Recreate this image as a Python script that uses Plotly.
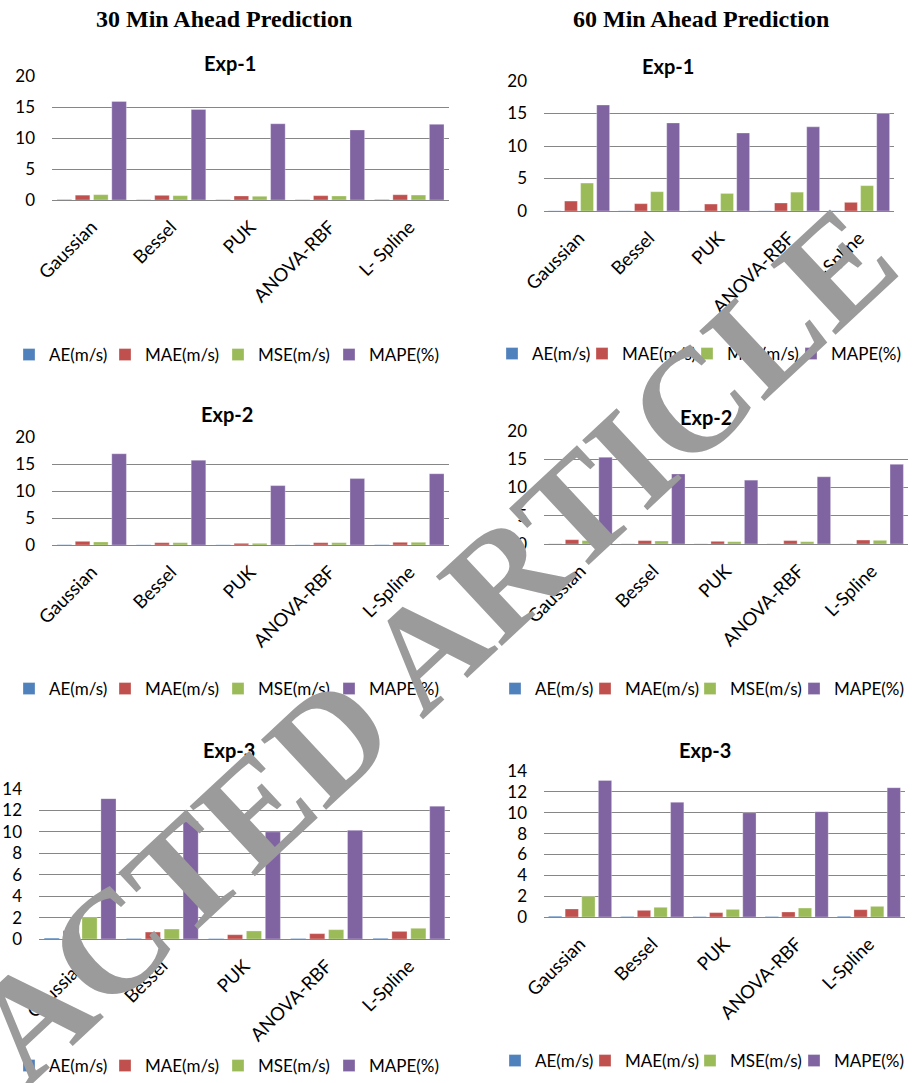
import plotly.graph_objects as go

W, H = 917, 1083

metrics = ["AE(m/s)", "MAE(m/s)", "MSE(m/s)", "MAPE(%)"]
colors = ["#4F81BD", "#C0504D", "#9BBB59", "#8064A2"]

kernels_a = ["Gaussian", "Bessel", "PUK", "ANOVA-RBF", "L- Spline"]
kernels = ["Gaussian", "Bessel", "PUK", "ANOVA-RBF", "L-Spline"]

# 30 min ahead, Exp-1
ae_30_1 = [0.08, 0.05, 0.05, 0.05, 0.08]
mae_30_1 = [0.78, 0.75, 0.65, 0.70, 0.85]
mse_30_1 = [0.86, 0.70, 0.60, 0.65, 0.80]
mape_30_1 = [15.9, 14.6, 12.3, 11.3, 12.2]

# 60 min ahead, Exp-1
ae_60_1 = [0.03, 0.03, 0.03, 0.03, 0.03]
mae_60_1 = [1.53, 1.13, 1.07, 1.23, 1.33]
mse_60_1 = [4.30, 2.97, 2.70, 2.90, 3.90]
mape_60_1 = [16.3, 13.55, 12.0, 12.95, 15.0]

# 30 min ahead, Exp-2
ae_30_2 = [0.06, 0.04, 0.04, 0.04, 0.06]
mae_30_2 = [0.68, 0.43, 0.31, 0.43, 0.50]
mse_30_2 = [0.56, 0.43, 0.31, 0.43, 0.50]
mape_30_2 = [16.9, 15.7, 11.0, 12.3, 13.2]

# 60 min ahead, Exp-2
ae_60_2 = [0.03, 0.03, 0.03, 0.03, 0.03]
mae_60_2 = [0.76, 0.60, 0.47, 0.60, 0.70]
mse_60_2 = [0.60, 0.53, 0.41, 0.41, 0.65]
mape_60_2 = [15.35, 12.4, 11.3, 11.9, 14.1]

# 30 min ahead, Exp-3
ae_30_3 = [0.09, 0.05, 0.04, 0.05, 0.07]
mae_30_3 = [0.78, 0.65, 0.40, 0.50, 0.71]
mse_30_3 = [2.00, 0.93, 0.75, 0.87, 1.00]
mape_30_3 = [13.1, 11.0, 10.0, 10.15, 12.4]

# 60 min ahead, Exp-3
ae_60_3 = [0.08, 0.05, 0.04, 0.05, 0.07]
mae_60_3 = [0.77, 0.64, 0.42, 0.48, 0.70]
mse_60_3 = [1.98, 0.93, 0.73, 0.86, 1.02]
mape_60_3 = [13.1, 11.0, 10.0, 10.1, 12.4]

column_titles = ["30 Min Ahead Prediction", "60 Min Ahead Prediction"]
panel_titles = ["Exp-1", "Exp-1", "Exp-2", "Exp-2", "Exp-3", "Exp-3"]
stamp_text = "RETRACTED ARTICLE"

SANS = "Lato"
SERIF = "Liberation Serif"

# legend entry widths (px) for the left and right column of charts
LEG_W_LEFT = [51, 68, 66, 70]
LEG_W_RIGHT = [45, 60, 59, 70]

# pixel layout of each panel: plot x-span, y top/bottom, axis max, tick step,
# title centre, legend left edge / centre line
panels = [
    dict(cats=kernels_a, data=[ae_30_1, mae_30_1, mse_30_1, mape_30_1],
         x=(52, 449), y=(76, 200), ymax=20, dtick=5,
         title=(230, 63), legend=(9, 355), lw=LEG_W_LEFT),
    dict(cats=kernels, data=[ae_60_1, mae_60_1, mse_60_1, mape_60_1],
         x=(544, 894), y=(81, 211), ymax=20, dtick=5,
         title=(668, 66), legend=(492, 354), lw=LEG_W_RIGHT),
    dict(cats=kernels, data=[ae_30_2, mae_30_2, mse_30_2, mape_30_2],
         x=(52, 449), y=(437, 545), ymax=20, dtick=5,
         title=(227, 414), legend=(9, 689), lw=LEG_W_LEFT),
    dict(cats=kernels, data=[ae_60_2, mae_60_2, mse_60_2, mape_60_2],
         x=(544, 908), y=(431, 544), ymax=20, dtick=5,
         title=(706, 417), legend=(495, 689), lw=LEG_W_RIGHT),
    dict(cats=kernels, data=[ae_30_3, mae_30_3, mse_30_3, mape_30_3],
         x=(39, 450), y=(789, 939), ymax=14, dtick=2,
         title=(229, 750), legend=(9, 1066), lw=LEG_W_LEFT),
    dict(cats=kernels, data=[ae_60_3, mae_60_3, mse_60_3, mape_60_3],
         x=(544, 905), y=(771, 917), ymax=14, dtick=2,
         title=(705, 750), legend=(495, 1061), lw=LEG_W_RIGHT),
]

fig = go.Figure()
layout = dict(
    width=W, height=H,
    margin=dict(l=0, r=0, t=0, b=0, autoexpand=False),
    paper_bgcolor="white", plot_bgcolor="white",
    barmode="group", bargap=0.08, bargroupgap=0.2,
    showlegend=True,
)
annotations = []

for i, p in enumerate(panels, start=1):
    sfx = "" if i == 1 else str(i)
    leg = "legend" + sfx
    for name, vals, col, lw in zip(metrics, p["data"], colors, p["lw"]):
        fig.add_trace(go.Bar(
            x=p["cats"], y=vals, name=name,
            marker=dict(color=col, line=dict(color="rgba(255,255,255,0.5)", width=0.6)),
            xaxis="x" + sfx, yaxis="y" + sfx, legend=leg, legendwidth=lw,
        ))
    x0, x1 = p["x"]
    yt, yb = p["y"]
    layout["xaxis" + sfx] = dict(
        domain=[x0 / W, x1 / W], anchor="y" + sfx, automargin=False,
        showline=True, linecolor="#868686", linewidth=1,
        showgrid=False, ticks="", tickangle=-45,
        tickfont=dict(family=SANS, size=18.5, color="black"),
        ticklabelstandoff=8, fixedrange=True,
    )
    layout["yaxis" + sfx] = dict(
        domain=[1 - yb / H, 1 - yt / H], anchor="x" + sfx, automargin=False,
        range=[0, p["ymax"]], dtick=p["dtick"], tick0=0,
        showgrid=True, gridcolor="#868686", gridwidth=1,
        zeroline=False, showline=False, ticks="",
        tickfont=dict(family=SANS, size=17, color="black"),
        ticklabelstandoff=16, fixedrange=True,
    )
    lx, ly = p["legend"]
    layout[leg] = dict(
        orientation="h", x=lx / W, y=1 - ly / H,
        xanchor="left", yanchor="middle",
        font=dict(family=SANS, size=17, color="black"),
        bgcolor="rgba(0,0,0,0)", itemclick=False, itemdoubleclick=False,
    )
    tx, ty = p["title"]
    annotations.append(dict(
        text=panel_titles[i - 1], x=tx / W, y=1 - ty / H,
        xref="paper", yref="paper", showarrow=False,
        xanchor="center", yanchor="middle",
        font=dict(family=SANS, size=20, color="black", weight="bold"),
    ))

for text, cx in zip(column_titles, [224, 701]):
    annotations.append(dict(
        text=text, x=cx / W, y=1 - 19 / H, xref="paper", yref="paper",
        showarrow=False, xanchor="center", yanchor="middle",
        font=dict(family=SERIF, size=24, color="black", weight="bold"),
    ))

# diagonal retraction stamp across the page
annotations.append(dict(
    text=stamp_text, x=284 / W, y=1 - 782 / H,
    xref="paper", yref="paper", showarrow=False,
    xanchor="center", yanchor="middle", textangle=-43,
    font=dict(family=SERIF, size=146, color="#9B9B9B", weight="bold"),
))

layout["annotations"] = annotations
fig.update_layout(**layout)
fig.write_html("out.html")
